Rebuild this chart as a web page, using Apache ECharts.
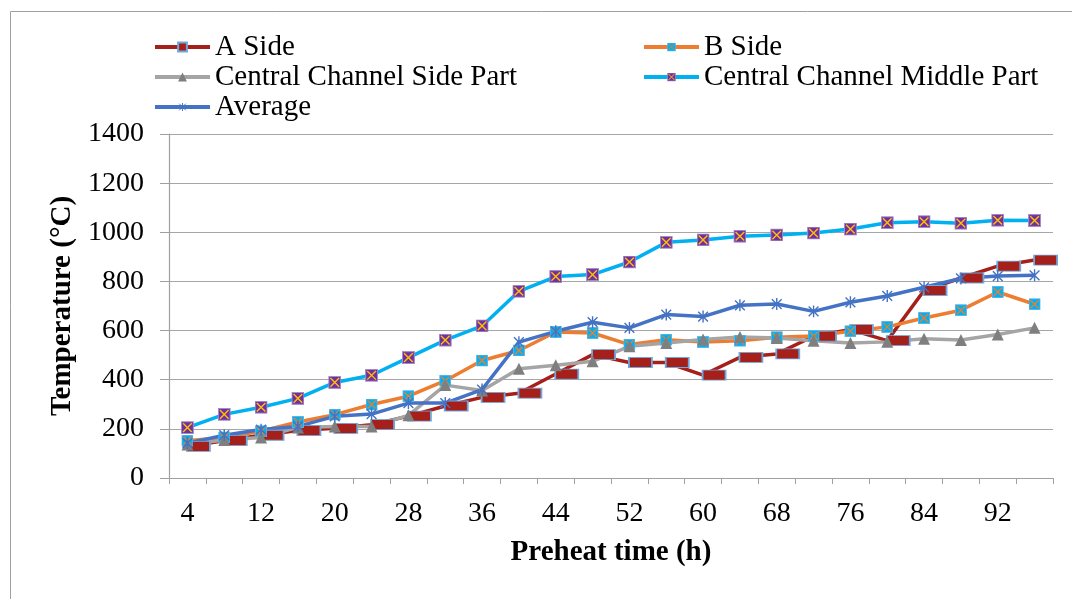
<!DOCTYPE html>
<html><head><meta charset="utf-8">
<script src="https://cdn.jsdelivr.net/npm/echarts@6/dist/echarts.min.js"></script>
<style>html,body{margin:0;padding:0;background:#fff}#c{width:1072px;height:599px}</style>
</head><body><div id="c"></div>
<script>
const hours = [4,8,12,16,20,24,28,32,36,40,44,48,52,56,60,64,68,72,76,80,84,88,92,96];
const aSide = [129,152,174,193,202,217,252,293,328,345,423,502,470,470,419,491,505,577,604,559,763,814,862,887];
const bSide = [152,165,190,228,258,299,333,396,478,519,594,590,543,563,553,559,573,578,597,615,651,683,757,707];
const channelSide = [136,155,165,206,210,210,255,378,356,445,459,475,536,549,564,574,570,559,549,554,567,562,584,611];
const channelMiddle = [205,259,288,324,389,418,490,561,619,760,820,828,879,959,969,984,989,997,1013,1039,1043,1037,1049,1048];
const average = [142,174,197,210,251,260,305,305,360,553,597,634,611,665,657,703,708,678,715,741,776,812,822,825];
const seriesNames = ['A Side','B Side','Central Channel Side Part','Central Channel Middle Part','Average'];
const yTicks = {min:0, max:1400, interval:200};

function svgSym(inner){
  const svg = "<svg xmlns='http://www.w3.org/2000/svg' width='24' height='24' viewBox='0 0 24 24'>" + inner + "</svg>";
  return 'image://data:image/svg+xml;charset=utf-8,' + encodeURIComponent(svg);
}
const symB = svgSym("<rect x='1' y='1' width='22' height='22' fill='#00B0F0' stroke='#5BB4E5' stroke-width='2'/><path d='M4 4L20 20M20 4L4 20' stroke='#ED7D31' stroke-width='2.6'/>");
const symM = svgSym("<rect x='1' y='1' width='22' height='22' fill='#7030A0' stroke='#A58BC9' stroke-width='2'/><path d='M4 4L20 20M20 4L4 20' stroke='#FFC000' stroke-width='2.6'/>");
const symAvg = svgSym("<path d='M12 1V23M3 3L21 21M21 3L3 21' stroke='#4472C4' stroke-width='2.6'/>");

const font = "'Liberation Serif','Times New Roman',serif";
const chart = echarts.init(document.getElementById('c'));
const lineW = 3.5;
const legendText = {fontFamily:font,fontSize:29,color:'#000',lineHeight:30};
chart.setOption({
  animation:false,
  backgroundColor:'#fff',
  textStyle:{fontFamily:font,color:'#000'},
  graphic:[{type:'rect',shape:{x:10.5,y:11.5,width:1200,height:800},style:{fill:'none',stroke:'#a0a0a0',lineWidth:1},silent:true,z:-10}],
  legend:[
    {data:[seriesNames[0],seriesNames[2],seriesNames[4]],orient:'vertical',left:153,top:32,padding:0,itemWidth:55,itemHeight:11,itemGap:0,
     lineStyle:{width:4},textStyle:legendText},
    {data:[seriesNames[1],seriesNames[3]],orient:'vertical',left:642,top:32,padding:0,itemWidth:55,itemHeight:11,itemGap:0,
     lineStyle:{width:4},textStyle:legendText}
  ],
  grid:{left:169,right:19,top:134,bottom:121,containLabel:false},
  xAxis:{type:'category',data:hours,boundaryGap:true,
    name:'Preheat time (h)',nameLocation:'middle',nameGap:60,
    nameTextStyle:{fontFamily:font,fontSize:29,fontWeight:'bold',color:'#000'},
    axisLine:{lineStyle:{color:'#a0a0a0',width:1.2}},
    axisTick:{show:true,interval:0,length:6,lineStyle:{color:'#a0a0a0'}},
    axisLabel:{interval:1,margin:22,fontFamily:font,fontSize:28,color:'#000'}},
  yAxis:{type:'value',min:yTicks.min,max:yTicks.max,interval:yTicks.interval,
    name:'Temperature (°C)',nameLocation:'middle',nameGap:83,nameRotate:90,
    nameTextStyle:{fontFamily:font,fontSize:29,fontWeight:'bold',color:'#000'},
    axisLine:{show:true,lineStyle:{color:'#a0a0a0',width:1.2}},
    axisTick:{show:true,length:9,lineStyle:{color:'#a0a0a0'}},
    axisLabel:{margin:25,fontFamily:font,fontSize:28,color:'#000',formatter:function(v){return String(v);}},
    splitLine:{lineStyle:{color:'#a6a6a6',width:1.2}}},
  series:[
    {name:seriesNames[0],type:'line',data:aSide,symbol:'rect',symbolSize:[23,10],symbolOffset:[11,0],
     lineStyle:{color:'#A5201A',width:lineW},itemStyle:{color:'#A5201A',borderColor:'#6FA8DC',borderWidth:1.2}},
    {name:seriesNames[1],type:'line',data:bSide,symbol:symB,symbolSize:12,
     lineStyle:{color:'#ED7D31',width:lineW},itemStyle:{color:'#ED7D31'}},
    {name:seriesNames[2],type:'line',data:channelSide,symbol:'triangle',symbolSize:12,
     lineStyle:{color:'#A5A5A5',width:lineW},itemStyle:{color:'#7F7F7F'}},
    {name:seriesNames[3],type:'line',data:channelMiddle,symbol:symM,symbolSize:13,
     lineStyle:{color:'#00B0F0',width:lineW},itemStyle:{color:'#00B0F0'}},
    {name:seriesNames[4],type:'line',data:average,symbol:symAvg,symbolSize:13,
     lineStyle:{color:'#4472C4',width:lineW},itemStyle:{color:'#4472C4'}}
  ]
});
</script></body></html>
